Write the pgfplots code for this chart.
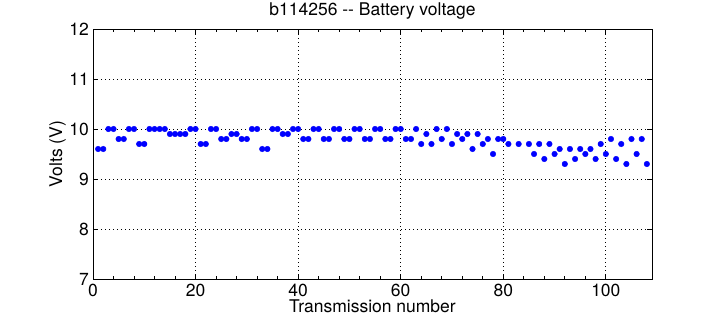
\documentclass[border=0pt]{standalone}
\usepackage{pgfplots}
\pgfplotsset{compat=1.18}
\usepackage{pgfplotstable}
\usepackage{fontspec}
\setmainfont{TeX Gyre Heros}
\pgfplotstableread{
x y
1 9.6
2 9.6
3 10.0
4 10.0
5 9.8
6 9.8
7 10.0
8 10.0
9 9.7
10 9.7
11 10.0
12 10.0
13 10.0
14 10.0
15 9.9
16 9.9
17 9.9
18 9.9
19 10.0
20 10.0
21 9.7
22 9.7
23 10.0
24 10.0
25 9.8
26 9.8
27 9.9
28 9.9
29 9.8
30 9.8
31 10.0
32 10.0
33 9.6
34 9.6
35 10.0
36 10.0
37 9.9
38 9.9
39 10.0
40 10.0
41 9.8
42 9.8
43 10.0
44 10.0
45 9.8
46 9.8
47 10.0
48 10.0
49 9.8
50 9.8
51 10.0
52 10.0
53 9.8
54 9.8
55 10.0
56 10.0
57 9.8
58 9.8
59 10.0
60 10.0
61 9.8
62 9.8
63 10.0
64 9.7
65 9.9
66 9.7
67 10.0
68 9.8
69 10.0
70 9.7
71 9.9
72 9.8
73 9.9
74 9.6
75 9.9
76 9.7
77 9.8
78 9.5
79 9.8
80 9.8
81 9.7
83 9.7
85 9.7
86 9.5
87 9.7
88 9.4
89 9.7
90 9.5
91 9.6
92 9.3
93 9.6
94 9.4
95 9.6
96 9.5
97 9.6
98 9.4
99 9.7
100 9.5
101 9.8
102 9.4
103 9.7
104 9.3
105 9.8
106 9.5
107 9.8
108 9.3
}\volt
\begin{document}
\begin{tikzpicture}
\path[use as bounding box] (0,0) rectangle (720bp,320bp);
\begin{axis}[
  scale only axis,
  width=559bp, height=250bp,
  at={(93bp,41bp)}, anchor=south west,
  xmin=0, xmax=109, ymin=7, ymax=12,
  xtick={0,20,40,60,80,100},
  ytick={7,8,9,10,11,12},
  minor x tick num=4,
  tick align=inside,
  xtick pos=both, ytick pos=both,
  major tick length=5bp, minor tick length=3bp,
  axis line style={line width=0.8bp},
  every tick/.style={black, line width=0.8bp},
  grid=major,
  major grid style={black, line width=0.8bp, dash pattern=on 1bp off 3bp},
  /pgf/number format/assume math mode=true,
  tick label style={font=\fontsize{17.5bp}{20bp}\selectfont},
  x tick label style={inner sep=0pt, anchor=north, yshift=-5bp},
  y tick label style={inner sep=0pt, anchor=east, xshift=-4bp},
  title={b114256 -{}- Battery voltage},
  title style={font=\fontsize{17.5bp}{20bp}\selectfont, at={(axis description cs:0.5,1)}, anchor=south, inner sep=0pt, yshift=4bp},
  xlabel={Transmission number},
  xlabel style={font=\fontsize{17.5bp}{20bp}\selectfont, at={(axis description cs:0.5,0)}, anchor=north, inner sep=0pt, yshift=-21bp},
  ylabel={Volts (V)},
  ylabel style={font=\fontsize{17.5bp}{20bp}\selectfont, at={(axis description cs:-0.0483,0.5)}, anchor=south, inner sep=0pt},
]
\addplot[only marks, mark=*, color=blue, mark size=2.8bp] table[x=x,y=y] {\volt};
\end{axis}
\end{tikzpicture}
\end{document}
